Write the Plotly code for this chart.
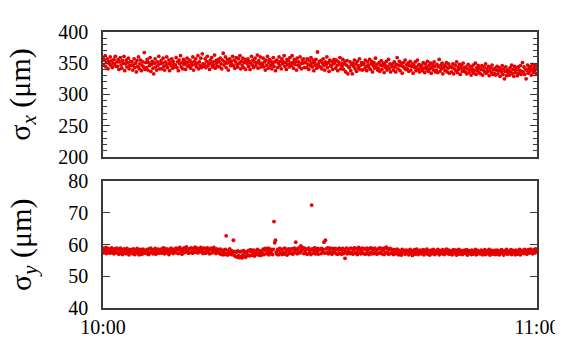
import pandas as pd
import plotly.graph_objects as go

# sigma_x (um), one row = 2 minutes
sigma_x = [
    358, 347, 355, 362, 344, 351, 357, 341, 353, 349, 360, 346, 354, 343, 350, 356, 348, 361, 345, 352,
    345, 356, 340, 352, 359, 347, 342, 354, 350, 361, 338, 349, 355, 344, 351, 358, 341, 347, 353, 346,
    352, 339, 347, 357, 343, 350, 336, 354, 345, 360, 341, 349, 355, 338, 346, 352, 344, 367, 340, 351,
    343, 356, 339, 351, 346, 359, 337, 348, 353, 342, 333, 350, 357, 344, 339, 352, 347, 361, 341, 349,
    354, 341, 350, 358, 345, 339, 352, 347, 360, 343, 349, 355, 338, 351, 346, 357, 342, 353, 348, 344,
    347, 359, 343, 352, 338, 355, 349, 362, 344, 351, 341, 356, 348, 353, 340, 350, 358, 345, 352, 346,
    355, 342, 351, 347, 360, 339, 353, 348, 357, 344, 350, 362, 341, 352, 346, 358, 343, 365, 349, 345,
    348, 357, 343, 353, 361, 346, 350, 340, 355, 349, 359, 344, 352, 347, 363, 342, 354, 350, 345, 356,
    353, 344, 358, 349, 341, 355, 366, 347, 352, 360, 343, 350, 356, 339, 351, 357, 346, 353, 348, 361,
    346, 355, 342, 352, 359, 348, 344, 357, 350, 362, 341, 353, 347, 358, 343, 351, 356, 340, 354, 349,
    357, 345, 353, 340, 350, 361, 347, 355, 343, 352, 358, 346, 351, 363, 342, 354, 349, 360, 344, 350,
    348, 358, 344, 352, 339, 355, 347, 361, 342, 351, 356, 346, 353, 341, 349, 359, 345, 352, 338, 354,
    355, 343, 350, 360, 346, 353, 341, 357, 349, 352, 362, 345, 351, 340, 356, 348, 354, 344, 359, 350,
    346, 362, 351, 342, 356, 348, 353, 339, 358, 347, 352, 344, 360, 349, 341, 355, 350, 357, 343, 351,
    352, 343, 357, 348, 340, 354, 346, 359, 350, 344, 355, 338, 351, 347, 356, 342, 368, 349, 345, 353,
    344, 354, 341, 350, 357, 346, 339, 352, 348, 360, 343, 351, 337, 355, 347, 345, 353, 340, 349, 356,
    351, 342, 355, 346, 338, 352, 348, 359, 341, 350, 345, 356, 340, 349, 353, 336, 347, 354, 333, 344,
    343, 352, 338, 348, 333, 350, 345, 355, 341, 349, 337, 353, 346, 342, 357, 340, 347, 351, 339, 348,
    350, 341, 355, 345, 338, 352, 347, 343, 356, 340, 349, 353, 336, 346, 351, 342, 358, 344, 348, 339,
    342, 351, 337, 347, 354, 340, 346, 350, 335, 348, 343, 353, 339, 345, 356, 341, 349, 336, 347, 344,
    349, 339, 352, 344, 336, 348, 359, 341, 347, 353, 338, 346, 350, 334, 345, 351, 342, 355, 340, 347,
    341, 350, 337, 346, 353, 339, 345, 349, 334, 347, 343, 352, 338, 344, 355, 340, 348, 336, 346, 342,
    347, 338, 351, 342, 335, 349, 344, 340, 353, 337, 346, 341, 350, 334, 343, 348, 339, 352, 345, 336,
    339, 348, 335, 344, 356, 337, 346, 341, 350, 333, 343, 347, 338, 345, 351, 336, 342, 349, 334, 344,
    345, 336, 343, 349, 333, 341, 347, 338, 352, 335, 344, 340, 348, 332, 342, 346, 337, 350, 339, 343,
    336, 344, 333, 341, 348, 335, 340, 345, 331, 342, 337, 347, 334, 339, 350, 332, 343, 338, 346, 335,
    342, 333, 340, 346, 331, 339, 344, 336, 349, 334, 341, 337, 345, 330, 338, 343, 335, 347, 332, 340,
    334, 342, 331, 339, 345, 333, 338, 343, 329, 340, 336, 346, 332, 341, 325, 337, 344, 330, 339, 335,
    339, 331, 343, 336, 347, 333, 340, 329, 345, 335, 338, 342, 330, 344, 334, 339, 346, 332, 337, 351,
    336, 344, 332, 341, 325, 338, 347, 334, 342, 337, 345, 331, 340, 348, 335, 343, 338, 346, 333, 341,
]

# sigma_y (um), one row = 2 minutes
sigma_y = [
    58.9, 57.4, 58.6, 57.8, 59.1, 57.2, 58.3, 58.8, 57.6, 58.5, 57.3, 58.0, 59.0, 57.7, 58.4, 57.1, 58.7, 58.2, 57.5, 58.9,
    57.3, 58.6, 57.0, 58.2, 58.9, 57.5, 58.4, 56.9, 58.0, 58.7, 57.4, 58.3, 57.1, 58.8, 57.6, 58.1, 56.8, 58.5, 57.7, 58.3,
    58.4, 57.1, 58.7, 57.5, 56.9, 58.2, 57.7, 58.8, 57.2, 58.0, 56.8, 58.5, 57.4, 58.1, 57.0, 58.6, 57.6, 58.3, 57.3, 57.9,
    57.2, 58.5, 57.8, 56.9, 58.7, 57.4, 58.9, 57.6, 58.2, 57.1, 58.4, 57.7, 58.8, 57.0, 58.3, 57.5, 58.6, 57.3, 58.1, 57.8,
    58.5, 57.3, 58.8, 57.7, 59.0, 57.1, 58.4, 57.9, 58.7, 57.4, 58.2, 56.9, 58.6, 57.8, 58.9, 57.5, 58.3, 57.2, 58.1, 58.7,
    57.6, 58.9, 57.4, 58.5, 57.2, 58.8, 59.1, 57.7, 58.3, 57.0, 58.6, 57.9, 59.0, 57.5, 58.4, 59.3, 57.8, 58.2, 57.3, 58.7,
    58.8, 57.5, 59.0, 57.9, 57.3, 58.6, 58.1, 59.2, 57.6, 58.4, 58.9, 57.4, 58.3, 58.7, 57.7, 59.1, 57.8, 58.5, 57.2, 58.9,
    57.6, 58.8, 57.3, 58.5, 59.0, 57.7, 58.3, 57.1, 58.6, 58.9, 57.4, 58.2, 57.8, 59.1, 57.5, 58.4, 57.2, 58.7, 57.9, 58.3,
    58.4, 57.2, 58.6, 57.0, 58.1, 56.8, 58.3, 57.5, 56.9, 58.5, 62.8, 57.3, 56.7, 58.2, 57.1, 58.7, 57.6, 56.9, 58.0, 57.4,
    61.4, 56.6, 57.9, 56.3, 57.6, 56.1, 58.0, 56.5, 55.9, 57.7, 56.2, 57.9, 55.8, 56.8, 58.1, 56.4, 57.5, 56.0, 57.8, 56.7,
    56.8, 58.2, 56.5, 57.9, 58.4, 56.6, 57.7, 57.1, 58.3, 56.4, 57.5, 58.0, 56.9, 58.5, 57.3, 56.7, 58.1, 57.2, 56.6, 57.9,
    57.2, 58.6, 56.9, 58.3, 58.8, 57.1, 58.4, 57.5, 58.9, 56.8, 57.9, 58.6, 57.3, 58.2, 56.9, 58.5, 67.3, 60.6, 61.4, 57.6,
    57.0, 58.5, 56.8, 58.2, 58.8, 57.3, 58.4, 56.9, 58.6, 57.5, 57.0, 58.9, 57.4, 58.3, 56.7, 58.1, 58.7, 57.2, 57.9, 58.6,
    57.3, 58.7, 57.0, 58.4, 58.9, 57.6, 60.8, 58.5, 57.1, 58.8, 57.7, 59.0, 57.4, 59.6, 58.2, 59.1, 58.6, 57.2, 58.9, 57.8,
    57.2, 58.6, 57.0, 58.5, 58.9, 57.4, 58.1, 56.9, 72.5, 58.7, 57.3, 58.2, 59.0, 57.1, 58.4, 57.6, 58.8, 57.0, 58.3, 58.6,
    58.5, 57.2, 58.8, 57.6, 58.4, 60.8, 57.3, 61.4, 58.7, 57.5, 59.0, 57.1, 58.3, 58.9, 57.4, 58.6, 57.0, 58.8, 57.7, 58.5,
    57.5, 58.8, 57.1, 58.5, 57.0, 58.3, 58.9, 57.3, 58.7, 57.0, 58.2, 58.8, 57.2, 58.4, 55.7, 57.6, 58.9, 57.1, 58.6, 57.8,
    58.6, 57.2, 58.9, 57.5, 58.7, 57.0, 58.3, 59.0, 57.3, 58.8, 57.6, 56.9, 58.5, 59.1, 57.4, 58.6, 57.1, 58.2, 58.9, 57.3,
    57.2, 58.7, 57.0, 58.4, 58.9, 57.4, 58.5, 56.9, 58.8, 57.5, 59.0, 57.1, 58.3, 58.7, 57.2, 58.9, 57.6, 58.5, 57.0, 58.4,
    58.7, 57.3, 59.0, 57.5, 58.6, 57.1, 58.8, 58.2, 56.9, 58.9, 57.4, 59.2, 57.6, 58.7, 57.0, 58.4, 58.8, 57.2, 58.6, 57.5,
    57.8, 56.9, 58.4, 57.4, 58.0, 57.1, 58.6, 57.6, 56.8, 58.2, 57.5, 57.9, 56.7, 58.5, 57.3, 57.7, 58.1, 57.0, 58.3, 57.6,
    57.4, 58.2, 56.8, 57.7, 58.5, 57.2, 57.9, 56.6, 58.1, 57.5, 58.4, 57.0, 57.8, 58.6, 57.3, 56.9, 58.0, 57.6, 58.3, 57.1,
    57.9, 57.2, 58.4, 56.8, 57.6, 58.2, 57.4, 58.6, 57.0, 57.8, 58.1, 56.7, 57.5, 58.3, 57.1, 57.9, 58.5, 57.3, 56.9, 57.7,
    58.0, 57.3, 58.5, 57.6, 56.8, 58.2, 57.5, 57.9, 57.1, 58.4, 57.7, 56.9, 58.1, 57.4, 58.6, 57.2, 57.8, 58.3, 57.0, 57.6,
    57.5, 58.1, 56.8, 57.8, 58.4, 57.2, 57.6, 58.3, 56.7, 57.9, 57.3, 58.5, 57.0, 57.7, 58.2, 57.4, 56.9, 58.0, 57.6, 58.3,
    57.2, 57.9, 58.4, 56.7, 57.6, 58.1, 57.3, 57.8, 56.9, 58.3, 57.5, 57.0, 58.0, 57.4, 58.5, 56.8, 57.7, 58.2, 57.1, 57.6,
    57.8, 57.1, 58.3, 57.5, 56.8, 58.0, 57.4, 58.4, 56.9, 57.7, 58.1, 57.2, 57.6, 58.5, 56.7, 57.9, 57.3, 58.2, 57.0, 57.5,
    57.4, 58.2, 56.9, 57.7, 58.3, 57.1, 57.9, 56.8, 58.0, 57.5, 58.4, 57.2, 57.6, 56.7, 58.1, 57.3, 57.8, 58.5, 57.0, 57.6,
    57.6, 58.0, 57.1, 58.4, 56.9, 57.7, 58.2, 57.3, 57.9, 56.8, 58.3, 57.5, 57.0, 58.1, 57.4, 58.5, 56.8, 57.8, 58.2, 57.4,
    57.9, 57.2, 58.5, 57.6, 58.1, 57.0, 57.8, 58.4, 57.3, 58.0, 58.6, 57.5, 58.2, 57.1, 57.9, 58.4, 57.4, 58.7, 57.7, 58.3,
]

t_start = "2000-01-01 10:00:00"
t_end = "2000-01-01 11:00:00"
x_tick_labels = ["10:00", "11:00"]
y1_ticks = [200, 250, 300, 350, 400]
y2_ticks = [40, 50, 60, 70, 80]
y1_title = "σ<sub><i>x</i></sub> (μm)"
y2_title = "σ<sub><i>y</i></sub> (μm)"

times = pd.date_range(t_start, t_end, periods=len(sigma_x))

RED = "#e60000"
FONT = "Liberation Serif"
LINE = "#3a3a3a"
TICKFONT = dict(family=FONT, size=20, color="black")
PAD = "\u00a0\u2009"

fig = go.Figure()
fig.add_trace(go.Scatter(x=times, y=sigma_x, mode="markers",
                         marker=dict(color=RED, size=3.8, line=dict(width=0)),
                         xaxis="x", yaxis="y", showlegend=False))
fig.add_trace(go.Scatter(x=times, y=sigma_y, mode="markers",
                         marker=dict(color=RED, size=3.8, line=dict(width=0)),
                         xaxis="x2", yaxis="y2", showlegend=False))

common_x = dict(type="date", range=[t_start, t_end], showline=True, mirror=True,
                linecolor=LINE, linewidth=1.5, showgrid=False, zeroline=False,
                ticks="", tickvals=[t_start, t_end], ticktext=x_tick_labels,
                tickfont=TICKFONT)

fig.update_layout(
    width=563, height=342,
    margin=dict(l=95, r=24, t=24, b=24),
    paper_bgcolor="white", plot_bgcolor="white",
    xaxis=dict(common_x, domain=[0, 1], anchor="y", showticklabels=False),
    xaxis2=dict(common_x, domain=[0, 1], anchor="y2", matches="x", showticklabels=True),
    yaxis=dict(domain=[0.5476, 1.0], anchor="x", range=[200, 400],
               tickvals=y1_ticks, ticktext=[f"{v}{PAD}" for v in y1_ticks],
               ticks="inside", ticklen=7, tickwidth=1.3, tickcolor=LINE,
               minor=dict(dtick=10, tick0=200, ticks="inside", ticklen=4, tickwidth=1, tickcolor=LINE, showgrid=False),
               showline=True, mirror="ticks", linecolor=LINE, linewidth=1.5,
               showgrid=False, zeroline=False, tickfont=TICKFONT),
    yaxis2=dict(domain=[0.0, 0.459], anchor="x2", range=[40, 80],
                tickvals=y2_ticks, ticktext=[f"{v}{PAD}" for v in y2_ticks],
                ticks="inside", ticklen=7, tickwidth=1.3, tickcolor=LINE,
                showline=True, mirror="ticks", linecolor=LINE, linewidth=1.5,
                showgrid=False, zeroline=False, tickfont=TICKFONT),
)

for title, ymid in [(y1_title, 0.774), (y2_title, 0.2295)]:
    fig.add_annotation(text=title, xref="paper", yref="paper", x=-0.186, y=ymid,
                       xanchor="center", yanchor="middle", textangle=-90, showarrow=False,
                       font=dict(family=FONT, size=30, color="black"))

fig.write_html("out.html")
